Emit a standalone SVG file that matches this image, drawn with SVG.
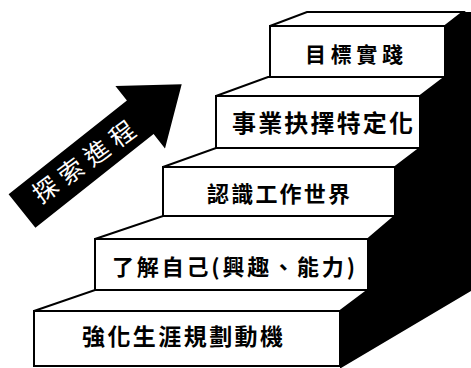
<svg xmlns="http://www.w3.org/2000/svg" width="471" height="368" viewBox="0 0 471 368">
<style>
.face{fill:#fff;stroke:#000;stroke-width:2;stroke-linejoin:miter}
.side{fill:#000}
.lbl{font-family:"Noto Sans CJK TC","Noto Sans CJK SC",sans-serif;font-weight:bold;fill:#000}
.arrtxt{font-family:"Noto Sans CJK TC","Noto Sans CJK SC",sans-serif;font-weight:normal;fill:#fff}
</style>
<rect width="471" height="368" fill="#fff"/>
<g id="stair-side">
<polygon class="side" points="445,26 463,12 471,12 471,291 341,368 340,368 340,311 368,290 368,239 395,216 395,167 420,148 420,96 445,77"/>
</g>
<g id="step5">
<polygon class="face" points="270,26 307,12 463,12 445,26"/>
<rect class="face" x="270" y="26" width="175" height="51"/>
<text class="lbl" x="305" y="62" font-size="21" textLength="98" lengthAdjust="spacing">目標實踐</text>
</g>
<g id="step4">
<polygon class="face" points="216,96 268,77 445,77 420,96"/>
<rect class="face" x="216" y="96" width="204" height="52"/>
<text class="lbl" x="232" y="132" font-size="24" textLength="181" lengthAdjust="spacing">事業抉擇特定化</text>
</g>
<g id="step3">
<polygon class="face" points="163,167 216,148 420,148 395,167"/>
<rect class="face" x="163" y="167" width="232" height="49"/>
<text class="lbl" x="207" y="202" font-size="22" textLength="143" lengthAdjust="spacing">認識工作世界</text>
</g>
<g id="step2">
<polygon class="face" points="95,239 163,216 395,216 368,239"/>
<rect class="face" x="95" y="239" width="273" height="51"/>
<text class="lbl" x="112" y="275" font-size="22" textLength="243" lengthAdjust="spacing">了解自己(興趣、能力)</text>
</g>
<g id="step1">
<polygon class="face" points="34,311 95,290 368,290 340,311"/>
<rect class="face" x="34" y="311" width="306" height="55"/>
<text class="lbl" x="82" y="345" font-size="23" textLength="201" lengthAdjust="spacing">強化生涯規劃動機</text>
</g>
<g id="connectors">
<g id="progress-arrow">
<polygon fill="#000" points="8.6,194.2 126.9,100.4 115.4,85.9 181.7,84.3 165,148.5 153.6,134 35.4,227.8"/>
<text class="arrtxt" x="0" y="0" font-size="25" text-anchor="middle" textLength="120" lengthAdjust="spacing" transform="translate(84,162) rotate(-36) translate(0,9)">探索進程</text>
</g>
</g>
</svg>
